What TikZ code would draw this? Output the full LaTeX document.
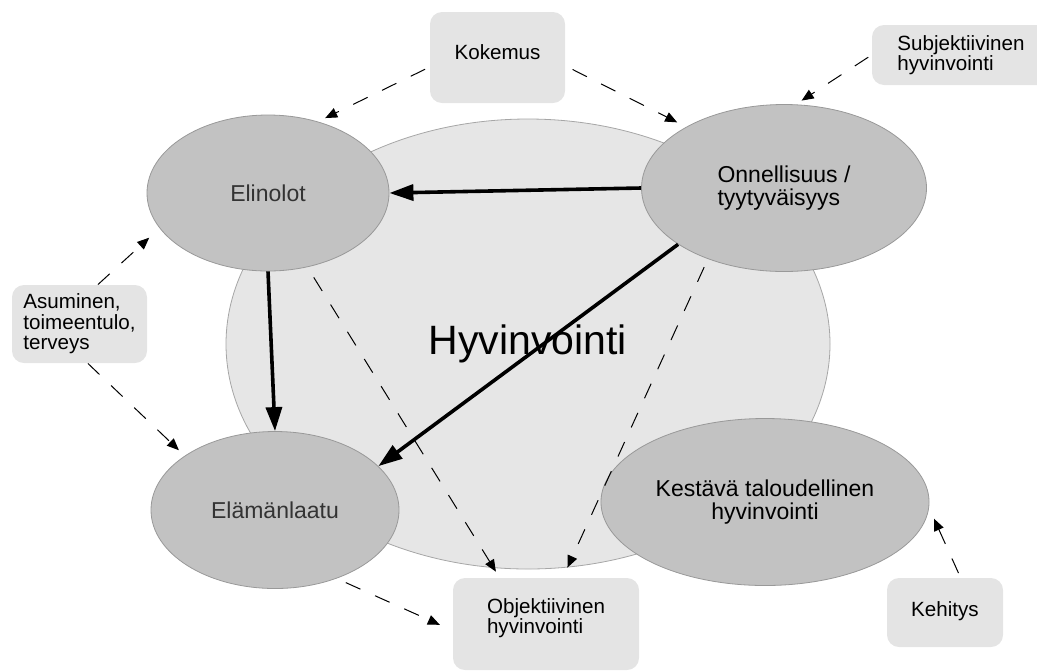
\documentclass[tikz,border=0pt]{standalone}
\usepackage{fontspec}
\setmainfont{Liberation Sans}
\usepackage{xcolor}
\usetikzlibrary{arrows.meta,shapes.geometric}

\definecolor{bigfill}{HTML}{E6E6E6}
\definecolor{ovalfill}{HTML}{C2C2C2}
\definecolor{boxfill}{HTML}{E4E4E4}

\tikzset{
  oval/.style={ellipse, draw=gray!80, line width=0.4pt, fill=ovalfill, align=center, font=\fontsize{11.5}{11.5}\selectfont},
  topic/.style={rounded corners=6pt, fill=boxfill, font=\fontsize{10.3}{10.3}\selectfont},
  dasharrow/.style={line width=0.5pt, dash pattern=on 8pt off 8pt, -{Triangle[length=6pt,width=5pt]}},
  mainarrow/.style={line width=1.8pt, -{Triangle[length=12pt,width=8pt]}}
}

\begin{document}
\begin{tikzpicture}[x=0.5pt,y=-0.5pt]
        \useasboundingbox (0,0) rectangle (1037,671);

        % big ellipse
        \node[ellipse, draw=gray!70, line width=0.4pt, fill=bigfill, minimum width=302pt, minimum height=225pt,
              font=\fontsize{20.5}{20.5}\selectfont] (hyv) at (528,344) {Hyvinvointi};

        % ovals
        \node[oval, minimum width=121pt, minimum height=78pt, text=black!80] (elin) at (268,193) {Elinolot};
        \node[oval, minimum width=142.5pt, minimum height=83.5pt, align=left] (onn) at (784,188) {Onnellisuus /\\tyytyväisyys};
        \node[oval, minimum width=124pt, minimum height=78.5pt, text=black!80] (elam) at (275,510) {Elämänlaatu};
        \node[oval, minimum width=135.5pt, minimum height=83.5pt] (kest) at (765,502) {Kestävä taloudellinen\\hyvinvointi};

        % boxes
        \node[topic, minimum width=67.5pt, minimum height=45.5pt, text depth=5pt] (kok) at (497.5,57.5) {Kokemus};
        \node[topic, minimum width=89pt, minimum height=30pt, align=left] (subj) at (961,55) {Subjektiivinen\\hyvinvointi};
        \node[topic, minimum width=67.5pt, minimum height=39pt, align=left] (asum) at (79.5,324) {Asuminen,\\toimeentulo,\\terveys};
        \node[topic, minimum width=93pt, minimum height=46pt, align=left, text depth=8pt] (obj) at (546,624) {Objektiivinen\\hyvinvointi};
        \node[topic, minimum width=58pt, minimum height=34.5pt, text depth=3pt] (keh) at (945,612.5) {Kehitys};

        % dashed links
        \draw[dasharrow, shorten <=2.5pt, shorten >=4pt] (kok.188) -- (elin.55);
        \draw[dasharrow, shorten <=4pt, shorten >=5pt] (kok.353) -- (onn.148);
        \draw[dasharrow, shorten <=2pt, shorten >=3.5pt] (subj.west) -- (onn.82);
        \draw[dasharrow, shorten >=7pt] (asum.65) -- (elin.198);
        \draw[dasharrow, shorten >=4pt] (asum.282) -- (elam.149);
        \draw[dasharrow, shorten <=6pt, shorten >=3.5pt] (elin.298) -- (obj.135);
        \draw[dasharrow, shorten <=4.5pt, shorten >=5.5pt] (onn.223) -- (obj.70);
        \draw[dasharrow, shorten <=5pt, shorten >=7pt] (elam.312) -- (obj.184);
        \draw[dasharrow, shorten <=2.5pt, shorten >=6pt] (keh.66) -- (kest.358);

        % solid links
        \draw[mainarrow] (onn.west) -- (elin.east);
        \draw[mainarrow] (elin.south) -- (elam.north);
        \draw[mainarrow] (onn.208) -- (elam.23);
\end{tikzpicture}
\end{document}
